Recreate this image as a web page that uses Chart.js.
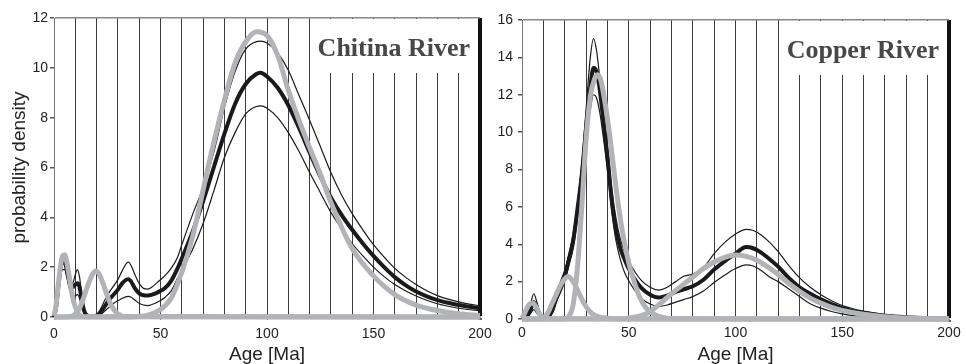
<!DOCTYPE html>
<html>
<head>
<meta charset="utf-8">
<script src="https://cdn.jsdelivr.net/npm/chart.js@4.4.1/dist/chart.umd.min.js"></script>
<style>
  html, body { margin: 0; padding: 0; background: #fff; }
  body { width: 966px; height: 364px; position: relative; overflow: hidden; }
  canvas { position: absolute; top: 0; }
  #chitina { left: 0; }
  #copper { left: 466px; }
</style>
</head>
<body>
<canvas id="chitina" width="500" height="364"></canvas>
<canvas id="copper" width="500" height="364"></canvas>
<script>
// Etiquetas de los ejes
const xLabelled = [0, 50, 100, 150, 200];
const chitinaYMax = 12;
const copperYMax = 16;

// ---- Chitina River: curvas negras (media y limites) ----
const chitinaAges = [0,1,2,3,4,5,6,7,8,9,10,11,12,13,14,15,17,20,22,24,26,28,30,32,34,35,36,38,40,42,44,46,48,50,52,55,58,60,65,70,75,80,85,90,95,97,100,105,110,115,120,125,130,135,140,145,150,155,160,165,170,175,180,185,190,195,200];
const chitinaMean  = [0,0.4,1.2,1.9,2.2,2.2,1.9,1.5,1.25,1.2,1.3,1.35,1.2,0.7,0.3,0.1,0.02,0.05,0.2,0.45,0.7,0.9,1.1,1.35,1.5,1.52,1.45,1.15,0.95,0.87,0.86,0.9,0.96,1.05,1.15,1.45,1.95,2.35,3.4,4.65,6.0,7.35,8.55,9.35,9.75,9.8,9.65,9.2,8.5,7.6,6.6,5.65,4.8,4.1,3.5,2.95,2.45,2.0,1.6,1.28,1.02,0.83,0.68,0.57,0.48,0.41,0.35];
const chitinaUpper = [0,0.5,1.4,2.1,2.4,2.35,2.0,1.6,1.3,1.4,1.7,1.9,1.6,0.9,0.4,0.15,0.03,0.1,0.35,0.7,1.0,1.25,1.5,1.85,2.15,2.2,2.1,1.7,1.35,1.15,1.12,1.2,1.35,1.5,1.65,1.95,2.4,2.9,4.1,5.2,6.6,8.4,9.85,10.75,11.05,11.07,11.0,10.6,9.9,8.9,7.9,6.85,5.8,4.9,4.15,3.5,2.9,2.4,1.95,1.6,1.3,1.05,0.86,0.72,0.61,0.52,0.45];
const chitinaLower = [0,0.3,1.0,1.6,1.9,1.9,1.6,1.2,0.95,0.85,0.85,0.9,0.75,0.4,0.15,0.05,0,0.02,0.1,0.25,0.4,0.55,0.65,0.75,0.82,0.83,0.8,0.68,0.55,0.48,0.46,0.5,0.57,0.66,0.78,1.05,1.55,1.9,2.7,3.75,5.05,6.4,7.4,8.15,8.45,8.47,8.38,8.0,7.4,6.65,5.8,5.0,4.2,3.55,2.95,2.45,2.0,1.62,1.3,1.05,0.84,0.67,0.53,0.43,0.35,0.29,0.25];

// ---- Chitina River: picos grises ----
const chitinaGrayAAges = [0,1,2,3,4,5,6,7,8,9,10,11,12,14,200];
const chitinaGrayA     = [0.05,0.5,1.3,2.0,2.45,2.5,2.2,1.7,1.15,0.7,0.4,0.2,0.08,0.01,0];
const chitinaGrayBAges = [0,8,10,12,14,16,18,19.5,21,23,25,27,29,31,33,200];
const chitinaGrayB     = [0,0.02,0.12,0.35,0.8,1.3,1.7,1.85,1.75,1.35,0.85,0.45,0.2,0.08,0.02,0];
const chitinaGrayCAges = [0,30,40,45,50,55,60,65,70,75,80,85,90,95,100,105,110,115,120,125,130,140,150,160,170,180,190,200];
const chitinaGrayC     = [0,0,0.02,0.1,0.3,0.75,1.8,3.2,5.1,7.0,8.7,10.2,11.05,11.45,11.3,10.5,9.1,7.9,6.8,5.75,4.6,2.75,1.65,0.9,0.48,0.26,0.13,0.06];

// ---- Copper River: curvas negras ----
const copperAges  = [0,2,4,5.5,7,8.5,10,12,14,16,18,20,22,24,26,28,30,32,33.5,35,36.5,38,40,42,44,46,48,50,53,56,60,64,68,72,76,80,85,90,95,100,105,108,112,116,120,125,130,135,140,145,150,155,160,170,180,190,200];
const copperMean  = [0,0.1,0.5,0.9,0.6,0.2,0.05,0.1,0.4,1.1,1.7,2.3,3.2,4.2,5.9,7.7,10.2,12.4,13.45,13.2,12.2,10.7,8.7,6.4,4.8,3.8,3.2,2.7,2.1,1.65,1.3,1.15,1.25,1.45,1.6,1.75,2.1,2.65,3.1,3.5,3.85,3.8,3.55,3.2,2.8,2.2,1.7,1.35,1.05,0.8,0.58,0.42,0.32,0.18,0.1,0.05,0.02];
const copperUpper = [0,0.2,0.8,1.35,0.9,0.3,0.1,0.2,0.6,1.3,2.0,2.6,3.5,4.6,6.2,8.3,11.2,14.0,15.0,14.3,12.8,11.2,9.3,7.0,5.4,4.3,3.6,3.1,2.5,2.05,1.7,1.55,1.7,2.0,2.3,2.4,2.75,3.5,4.1,4.55,4.8,4.75,4.5,4.1,3.6,2.85,2.2,1.7,1.3,0.98,0.72,0.55,0.42,0.24,0.13,0.07,0.04];
const copperLower = [0,0.05,0.3,0.5,0.3,0.1,0.02,0.05,0.3,0.9,1.4,2.0,2.9,3.8,5.4,7.1,9.3,11.2,12.0,11.8,11.0,9.8,8.0,5.8,4.2,3.2,2.5,2.05,1.5,1.1,0.8,0.68,0.75,0.9,1.05,1.2,1.5,1.95,2.35,2.7,2.9,2.85,2.6,2.25,2.0,1.6,1.2,0.82,0.58,0.4,0.27,0.18,0.13,0.06,0.03,0.01,0];

// ---- Copper River: picos grises ----
const copperGrayAAges = [0,1,2,3,4,5,6,7,8,9,10,12,200];
const copperGrayA     = [0.05,0.25,0.5,0.72,0.83,0.85,0.75,0.55,0.32,0.15,0.06,0.01,0];
const copperGrayBAges = [0,8,10,12,14,16,18,20,21.5,23,25,27,29,31,33,36,40,45,200];
const copperGrayB     = [0,0,0.05,0.3,0.8,1.3,1.8,2.15,2.28,2.15,1.8,1.3,0.85,0.5,0.28,0.12,0.04,0,0];
const copperGrayCAges = [0,18,20,22,24,26,28,30,32,34,35.5,37,39,41,43,45,47,50,52,55,58,62,66,70,200];
const copperGrayC     = [0,0,0.02,0.15,0.8,2.8,6.0,9.6,11.9,12.85,13.07,12.75,11.5,9.9,8.0,6.2,4.7,3.0,2.2,1.2,0.6,0.25,0.08,0.02,0];
const copperGrayDAges = [0,45,50,55,60,65,70,75,80,85,90,95,100,105,110,115,120,125,130,135,140,145,150,160,170,180,190,200];
const copperGrayD     = [0,0,0.05,0.15,0.4,0.85,1.35,1.8,2.25,2.7,3.05,3.3,3.42,3.35,3.15,2.8,2.38,1.9,1.48,1.12,0.85,0.62,0.46,0.25,0.12,0.05,0.02,0];

const GRAY = '#b2b3b7';
const BLACK = '#1a1a1a';
const SANS = '"Liberation Sans", Arial, sans-serif';

function toPoints(ages, vals) {
    return ages.map((a, i) => ({ x: a, y: vals[i] }));
}

function grayLine(ages, vals) {
    return { data: toPoints(ages, vals), borderColor: GRAY, borderWidth: 5 };
}

function blackLine(ages, vals, width) {
    return { data: toPoints(ages, vals), borderColor: BLACK, borderWidth: width };
}

// Caja blanca + nombre del rio (tapa la rejilla detras del texto)
const panelLabel = {
    id: 'panelLabel',
    beforeDatasetsDraw(chart, args, opts) {
        const { ctx, chartArea } = chart;
        ctx.save();
        ctx.font = 'bold 26px "Liberation Serif", "Times New Roman", serif';
        const w = ctx.measureText(opts.text).width;
        const right = chartArea.right - 10;
        const boxLeft = right - w - 4;
        ctx.fillStyle = '#fff';
        ctx.fillRect(boxLeft, chartArea.top + 1, chartArea.right - 3 - boxLeft, 54);
        ctx.fillStyle = '#474747';
        ctx.textAlign = 'right';
        ctx.textBaseline = 'alphabetic';
        ctx.fillText(opts.text, right, chartArea.top + 38);
        ctx.restore();
    }
};

function buildChart(id, p) {
    const ctx = document.getElementById(id).getContext('2d');
    return new Chart(ctx, {
        type: 'line',
        data: { datasets: p.datasets },
        options: {
            responsive: false,
            animation: false,
            parsing: false,
            layout: { padding: p.padding },
            datasets: {
                line: {
                    pointRadius: 0,
                    tension: 0.4,
                    cubicInterpolationMode: 'monotone',
                    fill: false,
                    clip: 6
                }
            },
            plugins: {
                legend: { display: false },
                tooltip: { enabled: false },
                panelLabel: { text: p.label }
            },
            scales: {
                x: {
                    type: 'linear',
                    min: 0,
                    max: 200,
                    afterFit: s => { s.height = p.xHeight; },
                    border: { display: true, color: '#a6a7ab', width: 2 },
                    grid: {
                        color: c => c.tick.value === 200 ? '#111' : (c.tick.value === 0 ? '#777' : '#3c3c3c'),
                        lineWidth: c => c.tick.value === 200 ? 4 : 1,
                        tickColor: c => xLabelled.includes(c.tick.value) ? '#666' : 'transparent',
                        tickLength: 3
                    },
                    ticks: {
                        stepSize: 10,
                        autoSkip: false,
                        maxRotation: 0,
                        padding: p.xTickPad,
                        color: '#222',
                        font: { family: SANS, size: 14 },
                        callback: v => xLabelled.includes(v) ? String(v) : ''
                    },
                    title: {
                        display: true,
                        text: 'Age [Ma]',
                        color: '#222',
                        padding: { top: 0, bottom: 0 },
                        font: { family: SANS, size: 19, lineHeight: 1 }
                    }
                },
                y: {
                    min: 0,
                    max: p.yMax,
                    afterFit: s => { s.width = p.yWidth; },
                    border: { display: true, color: '#777', width: 1 },
                    grid: {
                        color: c => c.tick.value === p.yMax ? '#888' : 'transparent',
                        lineWidth: 1.5,
                        tickColor: '#555',
                        tickLength: 4
                    },
                    ticks: {
                        stepSize: 2,
                        padding: p.yTickPad,
                        color: '#222',
                        font: { family: SANS, size: 14 }
                    },
                    title: {
                        display: p.yTitle,
                        text: 'probability density',
                        color: '#222',
                        padding: { top: 10, bottom: 0 },
                        font: { family: SANS, size: 19, lineHeight: 1 }
                    }
                }
            }
        },
        plugins: [panelLabel]
    });
}

// Grises primero para que queden encima de las negras
buildChart('chitina', {
    label: 'Chitina River',
    yMax: chitinaYMax,
    yTitle: true,
    yWidth: 54,
    xHeight: 47,
    xTickPad: 6,
    yTickPad: 2,
    padding: { left: 0, top: 18, right: 20, bottom: 0 },
    datasets: [
        grayLine(chitinaGrayAAges, chitinaGrayA),
        grayLine(chitinaGrayBAges, chitinaGrayB),
        grayLine(chitinaGrayCAges, chitinaGrayC),
        blackLine(chitinaAges, chitinaMean, 4),
        blackLine(chitinaAges, chitinaUpper, 1.2),
        blackLine(chitinaAges, chitinaLower, 1.2)
    ]
});

buildChart('copper', {
    label: 'Copper River',
    yMax: copperYMax,
    yTitle: false,
    yWidth: 56,
    xHeight: 45,
    xTickPad: 3,
    yTickPad: 5,
    padding: { left: 0, top: 20, right: 17, bottom: 0 },
    datasets: [
        grayLine(copperGrayAAges, copperGrayA),
        grayLine(copperGrayBAges, copperGrayB),
        grayLine(copperGrayCAges, copperGrayC),
        grayLine(copperGrayDAges, copperGrayD),
        blackLine(copperAges, copperMean, 4),
        blackLine(copperAges, copperUpper, 1.2),
        blackLine(copperAges, copperLower, 1.2)
    ]
});
</script>
</body>
</html>
